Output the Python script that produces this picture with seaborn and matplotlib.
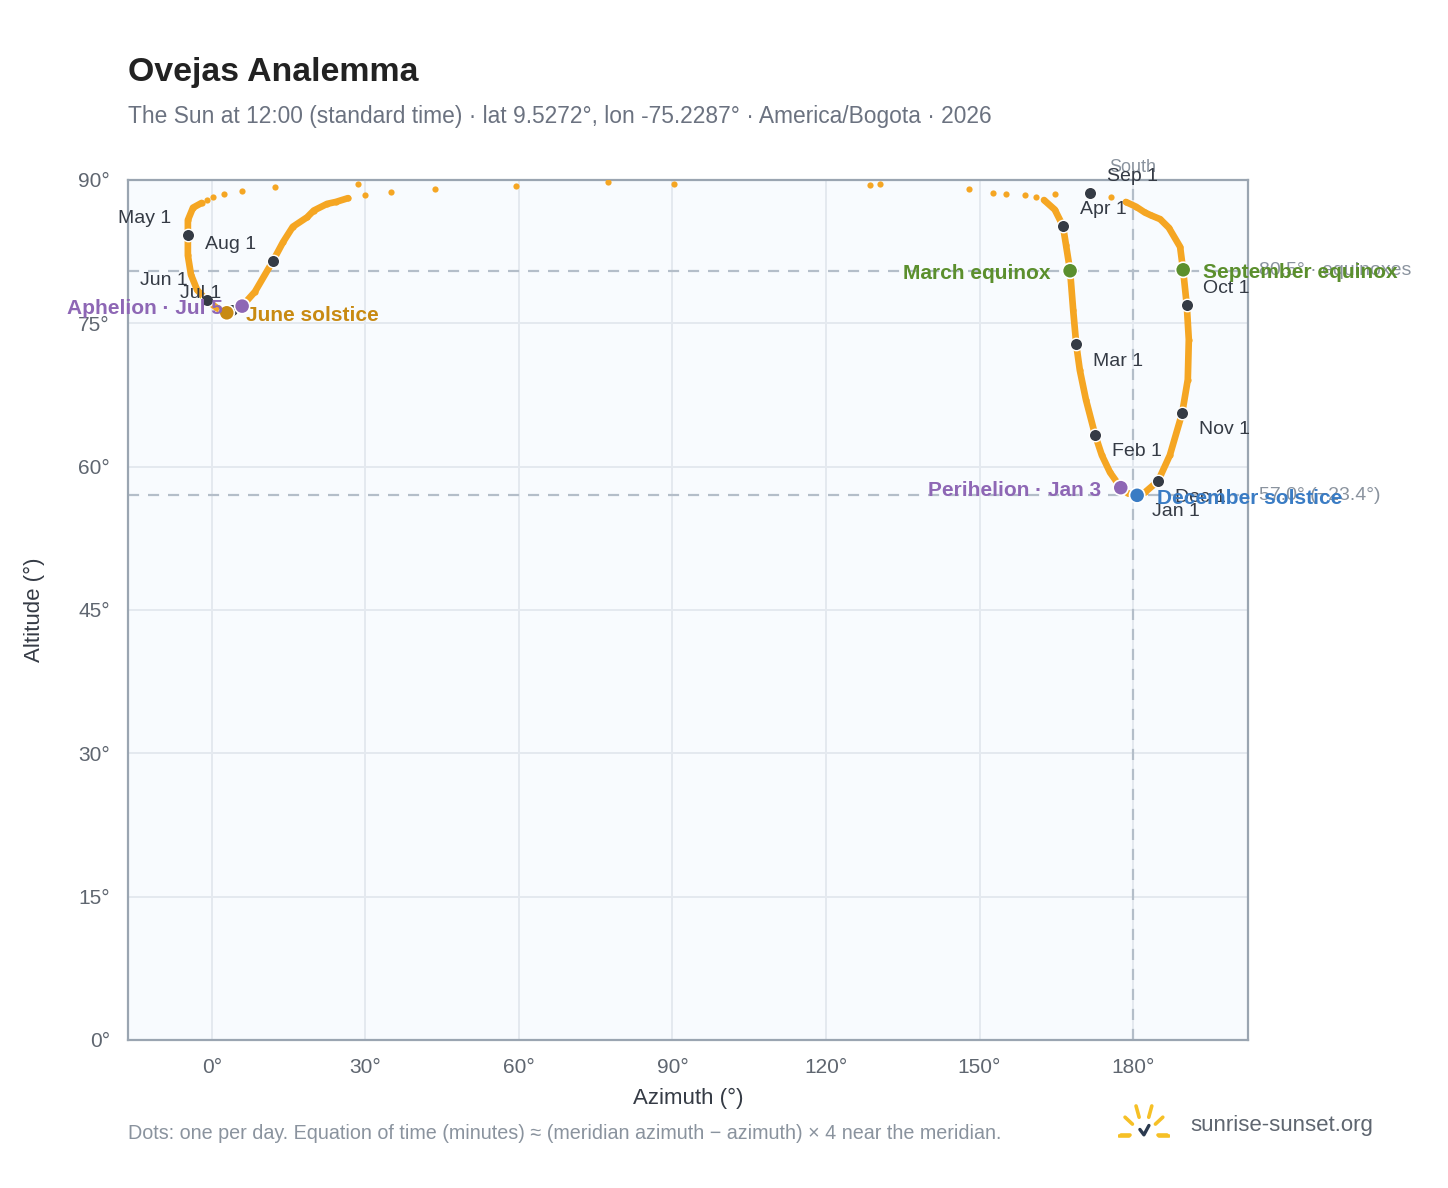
import numpy as np
import pandas as pd
import seaborn as sns
import matplotlib.pyplot as plt

# sun position at 12:00 (azimuth deg, altitude deg)
# right loop: early April down through January and back up to early September
right_az = [162.6, 164.7, 166.3, 166.9, 167.7, 168.3, 168.9, 169.6, 170.8, 172.6, 173.9, 175.5,
            177.6, 179.0, 180.8, 182.3, 184.9, 187.2, 189.6, 190.7, 190.9, 190.5, 189.8, 189.2,
            187.0, 185.3, 183.5, 182.3, 180.6, 178.6]
right_alt = [87.9, 86.9, 85.2, 83.2, 80.5, 76.4, 72.8, 70.1, 67.0, 63.3, 61.2, 59.4,
             57.8, 57.2, 57.0, 57.3, 58.5, 61.2, 65.6, 69.1, 73.3, 76.9, 80.5, 83.0,
             85.0, 85.9, 86.3, 86.6, 87.2, 87.7]
# left loop: late April through June and July to mid August
left_az = [-2.0, -3.7, -4.7, -4.7, -4.7, -4.1, -2.9, -1.0, 1.0, 2.9, 4.5, 5.9, 8.4, 11.9,
           13.9, 15.8, 18.6, 19.9, 22.5, 24.2, 26.6]
left_alt = [87.6, 87.1, 85.8, 84.2, 82.1, 80.1, 78.5, 77.4, 76.6, 76.1, 76.3, 76.8, 78.3, 81.5,
            83.5, 85.1, 86.1, 86.8, 87.5, 87.7, 88.1]
# days near the zenith, where the dots spread out
top_az = [175.7, 161.0, 158.9, 155.2, 152.6, 147.9, 164.7, 130.5, 128.6, 90.3, 77.4, 59.4,
          43.6, 35.0, 29.9, 28.5, 12.3, 5.9, 2.3, 0.2, -1.0]
top_alt = [88.2, 88.2, 88.4, 88.5, 88.6, 89.1, 88.5, 89.6, 89.5, 89.6, 89.8, 89.4,
           89.1, 88.7, 88.4, 89.6, 89.3, 88.8, 88.5, 88.2, 87.9]

months = ['Jan 1', 'Feb 1', 'Mar 1', 'Apr 1', 'May 1', 'Jun 1', 'Jul 1', 'Aug 1',
          'Sep 1', 'Oct 1', 'Nov 1', 'Dec 1']
month_az = [180.5, 172.6, 168.9, 166.3, -4.7, -1.0, 4.0, 11.9, 171.6, 190.5, 189.6, 184.9]
month_alt = [57.05, 63.3, 72.8, 85.2, 84.2, 77.4, 76.4, 81.5, 88.6, 76.9, 65.6, 58.5]
# label offsets in points
month_off = [(6, -6), (6, -6), (6, -6), (6, 6), (-6, 6), (-7, 7), (-4, 6), (-6, 6),
             (6, 6), (6, 6), (6, -6), (6, -6)]

events = ['March equinox', 'September equinox', 'June solstice', 'Aphelion · Jul 5',
          'Perihelion · Jan 3', 'December solstice']
event_az = [167.7, 189.8, 2.9, 5.9, 177.6, 180.8]
event_alt = [80.5, 80.6, 76.1, 76.8, 57.8, 57.0]
event_col = ['#5b8f2d', '#5b8f2d', '#c88a12', '#8e67b5', '#8e67b5', '#3a7cc4']
event_side = [-1, 1, 1, -1, -1, 1]

equinox_alt = 80.5
dsol_alt = 57.0

orange = '#f5a623'
sns.set_theme(style='whitegrid')
plt.rcParams['font.family'] = ['Liberation Sans', 'DejaVu Sans']

fig = plt.figure(figsize=(7.24, 5.94), dpi=200)
ax = fig.add_axes([0.0884, 0.1246, 0.7736, 0.7239])
ax.set_facecolor('#f8fbfe')

ax.axhline(equinox_alt, color='#b4bec9', lw=0.8, ls=(0, (5, 4)), zorder=1)
ax.axhline(dsol_alt, color='#b4bec9', lw=0.8, ls=(0, (5, 4)), zorder=1)
ax.axvline(180, color='#b4bec9', lw=0.8, ls=(0, (5, 4)), zorder=1)

sns.lineplot(x=right_az, y=right_alt, sort=False, estimator=None, color=orange, lw=2.4,
             ax=ax, zorder=2)
sns.lineplot(x=left_az, y=left_alt, sort=False, estimator=None, color=orange, lw=2.4,
             ax=ax, zorder=2)
sns.scatterplot(x=right_az + left_az + top_az, y=right_alt + left_alt + top_alt,
                color=orange, s=5, linewidth=0, ax=ax, zorder=3)

sns.scatterplot(x=month_az, y=month_alt, color='#353b45', s=20, edgecolor='white',
                linewidth=0.5, ax=ax, zorder=4)
for name, x, y, (dx, dy) in zip(months, month_az, month_alt, month_off):
    ax.annotate(name, (x, y), xytext=(dx, dy), textcoords='offset points',
                ha='left' if dx > 0 else 'right', va='center', fontsize=7,
                color='#353b45', zorder=6)

ev = pd.DataFrame({'az': event_az, 'alt': event_alt, 'name': events})
sns.scatterplot(data=ev, x='az', y='alt', hue='name', palette=dict(zip(events, event_col)),
                s=30, edgecolor='white', linewidth=0.6, legend=False, ax=ax, zorder=5)
for name, x, y, c, side in zip(events, event_az, event_alt, event_col, event_side):
    ax.annotate(name, (x, y), xytext=(7 * side, -1), textcoords='offset points',
                ha='left' if side > 0 else 'right', va='center', fontsize=7.5,
                fontweight='bold', color=c, zorder=6)

ax.text(1.01, equinox_alt, '80.5° · equinoxes', transform=ax.get_yaxis_transform(),
        va='center', ha='left', fontsize=7, color='#8a939e', clip_on=False)
ax.text(1.01, dsol_alt, '57.0° (−23.4°)', transform=ax.get_yaxis_transform(),
        va='center', ha='left', fontsize=7, color='#8a939e', clip_on=False)
ax.text(180, 1.005, 'South', transform=ax.get_xaxis_transform(), ha='center', va='bottom',
        fontsize=6.5, color='#8a939e')

ax.set_xlim(-16.4, 202.5)
ax.set_ylim(0, 90)
ax.set_xticks(range(0, 181, 30))
ax.set_yticks(range(0, 91, 15))
ax.set_xticklabels([f'{v}°' for v in range(0, 181, 30)])
ax.set_yticklabels([f'{v}°' for v in range(0, 91, 15)])
ax.tick_params(labelsize=7.5, colors='#5f6670', length=3, color='#9aa5b1')
ax.grid(color='#e4e9ef', lw=0.7)
for s in ax.spines.values():
    s.set_color('#9aa5b1')
    s.set_linewidth(0.8)
ax.set_xlabel('Azimuth (°)', fontsize=8, color='#353b45', labelpad=4)
ax.set_ylabel('Altitude (°)', fontsize=8, color='#353b45', labelpad=12)

fig.text(0.0884, 0.939, 'Ovejas Analemma', fontsize=12.2, fontweight='bold', color='#222222',
         va='center')
fig.text(0.0884, 0.902, 'The Sun at 12:00 (standard time) · lat 9.5272°, lon -75.2287° · America/Bogota · 2026',
         fontsize=8.2, color='#6b7280', va='center')
fig.text(0.0884, 0.046, 'Dots: one per day. Equation of time (minutes) ≈ (meridian azimuth − azimuth) × 4 near the meridian.',
         fontsize=7.1, color='#8a939e', va='center')
fig.text(0.822, 0.053, 'sunrise-sunset.org', fontsize=8, color='#5f6670', va='center')

# small sun logo
lg = fig.add_axes([0.772, 0.038, 0.036, 0.036])
lg.set_xlim(-1.3, 1.3)
lg.set_ylim(-0.3, 1.3)
lg.axis('off')
for a in [0, 35, 70, 110, 145, 180]:
    r = np.deg2rad(a)
    lg.plot([0.7 * np.cos(r), 1.15 * np.cos(r)], [0.7 * np.sin(r), 1.15 * np.sin(r)],
            color='#f6c026', lw=1.3, solid_capstyle='round')
lg.plot([-0.2, 0, 0.25], [0.2, 0.0, 0.35], color='#2b3a4f', lw=1.2)
lg.plot([-1.25, -0.75], [-0.05, -0.05], color='#f6c026', lw=1.3)
lg.plot([0.75, 1.25], [-0.05, -0.05], color='#f6c026', lw=1.3)

fig.savefig('out.png', dpi=200)
